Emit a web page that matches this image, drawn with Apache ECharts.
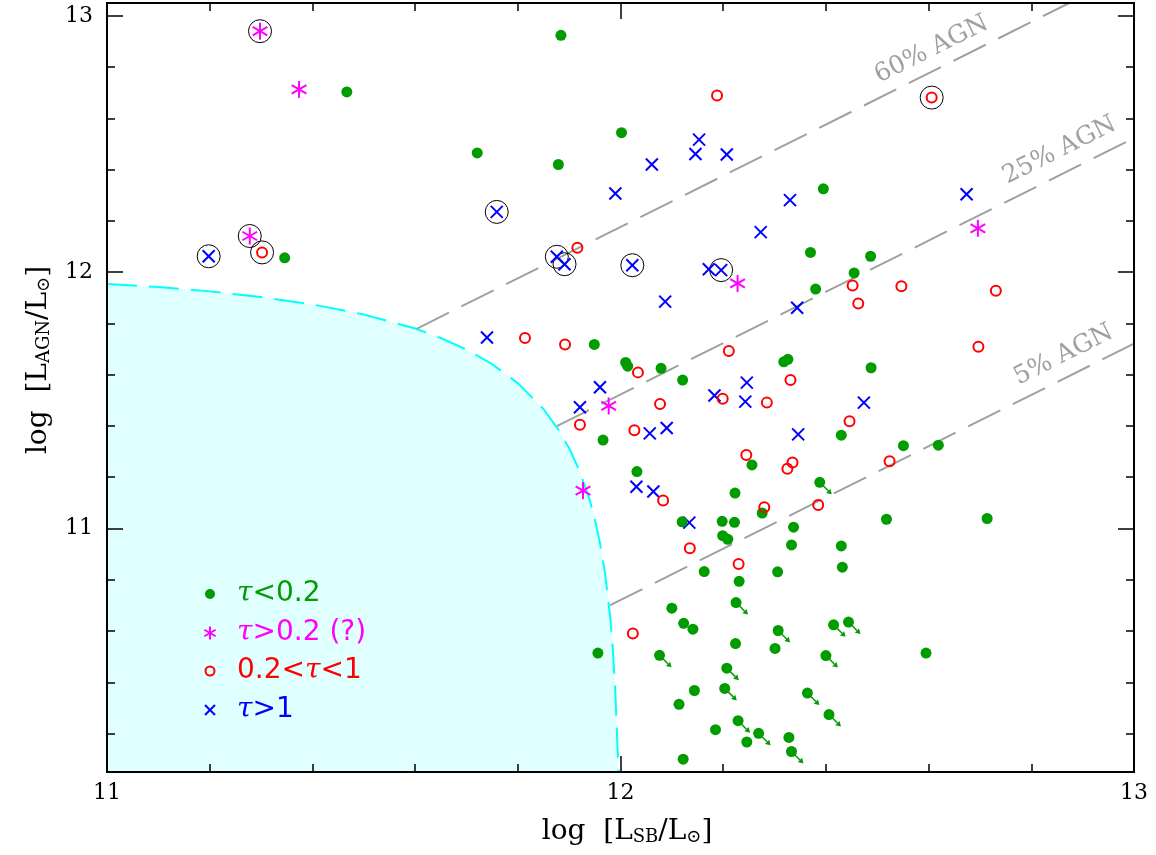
<!DOCTYPE html>
<html><head><meta charset="utf-8">
<script src="https://cdn.jsdelivr.net/npm/echarts@6/dist/echarts.min.js"></script>
<style>html,body{margin:0;padding:0;background:#fff}#chart{width:1156px;height:855px}</style>
</head><body><div id="chart"></div>
<script>
// ---------- tick values ----------
const xMajorTicks = [11, 12, 13];
const xMinorTicks = [11.2, 11.4, 11.6, 11.8, 12.2, 12.4, 12.6, 12.8];
const yMajorTicks = [11, 12, 13];
const yMinorTicks = [10.2, 10.4, 10.6, 10.8, 11.2, 11.4, 11.6, 11.8, 12.2, 12.4, 12.6, 12.8];

// ---------- data: [log L_SB, log L_AGN] ----------
const tauLow = [ // tau < 0.2 (filled green)
  [11.467,12.703],[11.884,12.924],[11.721,12.465],[12.002,12.544],[11.879,12.420],[11.346,12.056],
  [12.395,12.325],[12.370,12.077],[12.487,12.062],[12.455,11.997],[12.380,11.934],[11.949,11.718],
  [12.010,11.648],[12.014,11.633],[12.079,11.625],[12.121,11.579],[12.318,11.650],[12.326,11.660],
  [12.488,11.627],[12.430,11.364],[11.966,11.345],[12.256,11.248],[12.032,11.222],[12.223,11.138],
  [12.276,11.060],[12.120,11.026],[12.198,11.028],[12.222,11.024],[12.199,10.972],[12.209,10.958],
  [12.337,11.005],[12.333,10.936],[12.430,10.932],[12.432,10.849],[12.163,10.832],[12.306,10.831],
  [12.231,10.794],[12.100,10.689],[12.123,10.630],[12.141,10.607],[11.956,10.514],[12.224,10.551],
  [12.301,10.532],[12.144,10.368],[12.114,10.314],[12.185,10.215],[12.246,10.167],[12.328,10.185],
  [12.122,10.100],[12.551,11.323],[12.619,11.325],[12.518,11.036],[12.714,11.039],[12.595,10.514]
];
const tauLowLimits = [ // tau < 0.2 with arrows
  [12.388,11.180],[12.225,10.711],[12.307,10.602],[12.415,10.624],[12.444,10.635],[12.400,10.504],
  [12.076,10.505],[12.207,10.455],[12.203,10.376],[12.364,10.358],[12.406,10.274],[12.229,10.250],
  [12.269,10.201],[12.333,10.130]
];
const tauUncertain = [ // tau > 0.2 (?)
  [11.298,12.940],[11.374,12.713],[11.278,12.141],[12.228,11.956],[12.696,12.171],[11.977,11.478],[11.927,11.148]
];
const tauMid = [ // 0.2 < tau < 1
  [12.188,12.689],[11.302,12.077],[11.916,12.095],[12.606,12.681],[12.452,11.948],[12.463,11.878],
  [12.547,11.945],[12.731,11.927],[12.697,11.709],[11.814,11.743],[11.892,11.718],[12.034,11.609],
  [12.211,11.692],[12.331,11.579],[12.446,11.418],[11.921,11.405],[12.077,11.486],[12.199,11.506],
  [12.285,11.491],[12.027,11.383],[12.245,11.287],[12.335,11.257],[12.325,11.233],[12.385,11.092],
  [12.083,11.109],[12.280,11.083],[12.135,10.923],[12.230,10.861],[12.024,10.590],[12.524,11.262]
];
const tauHigh = [ // tau > 1
  [11.198,12.062],[11.759,12.235],[12.153,12.517],[12.146,12.461],[12.207,12.459],[12.061,12.420],
  [11.990,12.307],[11.876,12.060],[11.891,12.031],[12.023,12.027],[12.172,12.011],[12.196,12.008],
  [12.330,12.281],[12.273,12.156],[12.087,11.885],[12.674,12.304],[11.740,11.745],[12.344,11.861],
  [12.474,11.491],[12.346,11.367],[11.960,11.551],[11.921,11.473],[12.183,11.519],[12.246,11.569],
  [12.243,11.495],[12.057,11.371],[12.090,11.392],[12.031,11.163],[12.064,11.144],[12.134,11.023]
];
const circled = [
  [11.298,12.940],[11.198,12.062],[11.278,12.141],[11.302,12.077],[11.759,12.235],
  [11.876,12.060],[11.891,12.031],[12.023,12.027],[12.196,12.008],[12.606,12.681]
];
// boundary of shaded region
const boundaryCurve = [
  [11.00,11.954],[11.10,11.942],[11.20,11.925],[11.30,11.903],[11.40,11.874],[11.50,11.835],
  [11.60,11.780],[11.65,11.743],[11.70,11.698],[11.75,11.641],[11.80,11.567],[11.85,11.466],
  [11.88,11.383],[11.90,11.313],[11.92,11.226],[11.94,11.111],[11.95,11.036],[11.96,10.944],
  [11.97,10.824],[11.98,10.653],[11.985,10.530],[11.99,10.358],[11.996,10.050]
];
// AGN fraction lines (end points)
const agn60 = [[11.603,11.779],[12.874,13.050]];
const agn25 = [[11.876,11.399],[13.000,12.523]];
const agn05 = [[11.980,10.701],[13.000,11.721]];
const agnLabelText = ['60% AGN', '25% AGN', '5% AGN'];

// ---------- layout / style config ----------
const X_MIN = 11, X_MAX = 13, Y_MIN = 10.05, Y_MAX = 13.05;
const agnLabelAnchor = [[12.606,12.869],[12.855,12.475],[12.863,11.677]];
const GREEN = '#009c00', MAGENTA = '#ff00ff', RED = '#ff0000', BLUE = '#0000ff', GRAY = '#a0a0a0';

function xAx(pos, vals, len, labels) {
  return {
    type: 'value', gridIndex: 0, position: pos, offset: 0, min: X_MIN, max: X_MAX, z: 10,
    axisLine: { show: true, onZero: false, lineStyle: { color: '#000', width: 2 } },
    axisTick: { show: true, inside: true, length: len, customValues: vals, lineStyle: { color: '#000', width: 1.5 } },
    axisLabel: labels ? { show: true, customValues: vals, margin: 10, color: '#000', fontFamily: 'DejaVu Serif', fontSize: 22 } : { show: false },
    splitLine: { show: false }
  };
}
function yAx(pos, vals, len, labels) {
  return {
    type: 'value', gridIndex: 0, position: pos, offset: 0, min: Y_MIN, max: Y_MAX, z: 10,
    axisLine: { show: true, onZero: false, lineStyle: { color: '#000', width: 2 } },
    axisTick: { show: true, inside: true, length: len, customValues: vals, lineStyle: { color: '#000', width: 1.5 } },
    axisLabel: labels ? { show: true, customValues: vals, margin: 14, color: '#000', fontFamily: 'DejaVu Serif', fontSize: 22 } : { show: false },
    splitLine: { show: false }
  };
}

function renderCross(params, api) {
  const p = api.coord([api.value(0), api.value(1)]);
  const r = 6;
  const st = { stroke: BLUE, lineWidth: 2 };
  return { type: 'group', children: [
    { type: 'line', shape: { x1: p[0]-r, y1: p[1]-r, x2: p[0]+r, y2: p[1]+r }, style: st },
    { type: 'line', shape: { x1: p[0]-r, y1: p[1]+r, x2: p[0]+r, y2: p[1]-r }, style: st }
  ]};
}
function renderStar(params, api) {
  const p = api.coord([api.value(0), api.value(1)]);
  const r = 8.5, c = Math.cos(Math.PI/6) * r, s = Math.sin(Math.PI/6) * r;
  const st = { stroke: MAGENTA, lineWidth: 2 };
  return { type: 'group', children: [
    { type: 'line', shape: { x1: p[0], y1: p[1]-r, x2: p[0], y2: p[1]+r }, style: st },
    { type: 'line', shape: { x1: p[0]-c, y1: p[1]-s, x2: p[0]+c, y2: p[1]+s }, style: st },
    { type: 'line', shape: { x1: p[0]-c, y1: p[1]+s, x2: p[0]+c, y2: p[1]-s }, style: st }
  ]};
}
function renderArrow(params, api) {
  const p = api.coord([api.value(0), api.value(1)]);
  const tx = p[0] + 12, ty = p[1] + 12;
  const d = Math.SQRT1_2, hl = 5, hw = 3;
  const bx = tx - hl*d, by = ty - hl*d;
  return { type: 'group', children: [
    { type: 'line', shape: { x1: p[0], y1: p[1], x2: bx, y2: by }, style: { stroke: GREEN, lineWidth: 1.5 } },
    { type: 'polygon', shape: { points: [[tx, ty], [bx - hw*d, by + hw*d], [bx + hw*d, by - hw*d]] }, style: { fill: GREEN } }
  ]};
}
function renderAgnLabel(params, api) {
  const i = params.dataIndex;
  const line = [agn60, agn25, agn05][i];
  const a = api.coord(line[0]), b = api.coord(line[1]);
  const ang = Math.atan2(a[1] - b[1], b[0] - a[0]);
  const p = api.coord(agnLabelAnchor[i]);
  return { type: 'text', x: p[0], y: p[1], rotation: ang,
    style: { text: agnLabelText[i], fill: GRAY, fontFamily: 'DejaVu Serif', fontSize: 25, align: 'center', verticalAlign: 'middle' } };
}

function agnLineSeries(name, data) {
  return { name, type: 'line', data, xAxisIndex: 0, yAxisIndex: 0, symbol: 'none', z: 3, silent: true,
    lineStyle: { color: GRAY, width: 2, type: [36, 14] } };
}

// ---------- legend (graphic) ----------
const LX = 210, TX = 237, rows = [594, 633, 671, 710];
function legendText(y, text, color) {
  return { type: 'text', x: TX, y, z: 100,
    style: { text, fill: color, verticalAlign: 'middle', align: 'left', fontFamily: 'DejaVu Sans', fontSize: 28,
      rich: {
        t: { fontFamily: 'DejaVu Serif', fontStyle: 'italic', fontSize: 28, fill: color },
        n: { fontFamily: 'DejaVu Sans', fontSize: 28, fill: color }
      } } };
}
const sr = 6.5, sc = Math.cos(Math.PI/6) * sr, ss = Math.sin(Math.PI/6) * sr;
const legendGraphics = [
  { type: 'circle', z: 100, shape: { cx: LX, cy: rows[0], r: 5 }, style: { fill: GREEN } },
  { type: 'line', z: 100, shape: { x1: LX, y1: rows[1]-sr, x2: LX, y2: rows[1]+sr }, style: { stroke: MAGENTA, lineWidth: 2 } },
  { type: 'line', z: 100, shape: { x1: LX-sc, y1: rows[1]-ss, x2: LX+sc, y2: rows[1]+ss }, style: { stroke: MAGENTA, lineWidth: 2 } },
  { type: 'line', z: 100, shape: { x1: LX-sc, y1: rows[1]+ss, x2: LX+sc, y2: rows[1]-ss }, style: { stroke: MAGENTA, lineWidth: 2 } },
  { type: 'circle', z: 100, shape: { cx: LX, cy: rows[2], r: 4.5 }, style: { fill: 'none', stroke: RED, lineWidth: 2 } },
  { type: 'line', z: 100, shape: { x1: LX-5, y1: rows[3]-5, x2: LX+5, y2: rows[3]+5 }, style: { stroke: BLUE, lineWidth: 2 } },
  { type: 'line', z: 100, shape: { x1: LX-5, y1: rows[3]+5, x2: LX+5, y2: rows[3]-5 }, style: { stroke: BLUE, lineWidth: 2 } },
  legendText(rows[0], '{t|τ}{n|<0.2}', GREEN),
  legendText(rows[1], '{t|τ}{n|>0.2 (?)}', MAGENTA),
  legendText(rows[2], '{n|0.2<}{t|τ}{n|<1}', RED),
  legendText(rows[3], '{t|τ}{n|>1}', BLUE)
];
const titleRich = {
  m: { fontFamily: 'DejaVu Serif', fontSize: 28, lineHeight: 36, verticalAlign: 'bottom', fill: '#000' },
  s: { fontFamily: 'DejaVu Serif', fontSize: 18, lineHeight: 18, verticalAlign: 'bottom', fill: '#000' }
};
const titleGraphics = [
  { type: 'text', x: 627, y: 828, z: 100,
    style: { text: '{m|log  [L}{s|SB}{m|/L}{s|⊙}{m|]}', align: 'center', verticalAlign: 'middle', rich: titleRich } },
  { type: 'text', x: 35, y: 360, z: 100, rotation: Math.PI / 2,
    style: { text: '{m|log  [L}{s|AGN}{m|/L}{s|⊙}{m|]}', align: 'center', verticalAlign: 'middle', rich: titleRich } }
];

const chart = echarts.init(document.getElementById('chart'), null, { renderer: 'canvas' });
chart.setOption({
  animation: false,
  backgroundColor: '#fff',
  grid: { left: 107, top: 3, right: 22, bottom: 83, containLabel: false },
  xAxis: [ xAx('bottom', xMajorTicks, 16, true), xAx('bottom', xMinorTicks, 8, false),
           xAx('top', xMajorTicks, 16, false), xAx('top', xMinorTicks, 8, false) ],
  yAxis: [ yAx('left', yMajorTicks, 16, true), yAx('left', yMinorTicks, 8, false),
           yAx('right', yMajorTicks, 16, false), yAx('right', yMinorTicks, 8, false) ],
  graphic: legendGraphics.concat(titleGraphics),
  series: [
    { name: 'region', type: 'line', data: boundaryCurve, symbol: 'none', z: 1, silent: true,
      lineStyle: { color: '#00ffff', width: 2, type: [30, 12] },
      areaStyle: { color: '#e0ffff', opacity: 1, origin: 'start' } },
    agnLineSeries('60% AGN', agn60),
    agnLineSeries('25% AGN', agn25),
    agnLineSeries('5% AGN', agn05),
    { name: 'agnLabels', type: 'custom', data: agnLabelAnchor, renderItem: renderAgnLabel, z: 3, silent: true },
    { name: 'circled', type: 'scatter', data: circled, symbol: 'circle', symbolSize: 23, z: 4, silent: true,
      itemStyle: { color: 'rgba(0,0,0,0)', borderColor: '#000', borderWidth: 1, opacity: 1 } },
    { name: 'arrows', type: 'custom', data: tauLowLimits, renderItem: renderArrow, z: 5, silent: true, clip: true },
    { name: 'τ<0.2', type: 'scatter', data: tauLow.concat(tauLowLimits), symbol: 'circle', symbolSize: 11, z: 6,
      itemStyle: { color: GREEN, opacity: 1 } },
    { name: 'τ>0.2 (?)', type: 'custom', data: tauUncertain, renderItem: renderStar, z: 6, clip: true },
    { name: '0.2<τ<1', type: 'scatter', data: tauMid, symbol: 'circle', symbolSize: 10, z: 6,
      itemStyle: { color: 'rgba(0,0,0,0)', borderColor: RED, borderWidth: 2, opacity: 1 } },
    { name: 'τ>1', type: 'custom', data: tauHigh, renderItem: renderCross, z: 6, clip: true }
  ]
});
</script></body></html>
